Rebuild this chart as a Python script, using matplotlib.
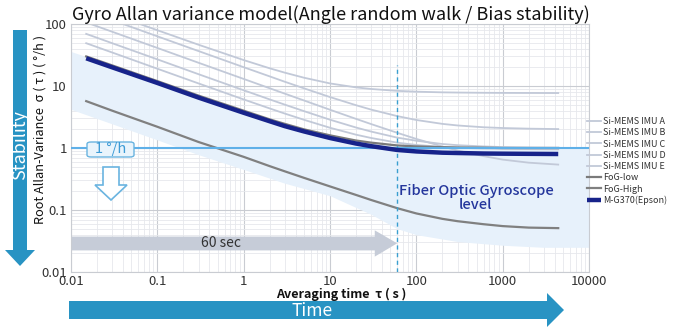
import numpy as np
import matplotlib
matplotlib.use('Agg')
import matplotlib.pyplot as plt
from matplotlib.patches import Polygon, FancyBboxPatch
from matplotlib.ticker import FixedLocator, LogLocator, NullFormatter

plt.rcParams['font.family'] = ['Noto Sans CJK JP', 'DejaVu Sans']

W, H = 686, 336

# averaging time (s) where the curves were read
tau = [0.015, 0.03, 0.1, 0.3, 1, 2, 3, 5, 10, 20, 30, 60, 100, 200, 300,
       600, 1000, 2000, 4400]

mems_a = [204, 144.5, 79.4, 46.3, 26.2, 19.3, 16.4, 13.6, 11.0, 9.5, 8.95,
          8.35, 8.1, 7.9, 7.84, 7.77, 7.74, 7.72, 7.7]
mems_b = [163, 115.5, 63.3, 36.6, 20.1, 14.3, 11.7, 9.17, 6.63, 4.9, 4.16,
          3.27, 2.83, 2.45, 2.31, 2.16, 2.1, 2.05, 2.02]
mems_c = [69.3, 49, 26.9, 15.5, 8.54, 6.08, 5.0, 3.93, 2.86, 2.14, 1.84,
          1.47, 1.31, 1.16, 1.11, 1.06, 1.035, 1.02, 1.01]
mems_d = [106, 75, 41.1, 23.7, 13.0, 9.2, 7.52, 5.84, 4.14, 2.95, 2.43,
          1.76, 1.4, 1.06, 0.91, 0.74, 0.65, 0.58, 0.54]
mems_e = [49, 34.7, 19, 11, 6.07, 4.35, 3.59, 2.85, 2.12, 1.64, 1.45,
          1.22, 1.12, 1.04, 1.01, 0.98, 0.97, 0.96, 0.95]
fog_low = [30, 21.5, 12, 7.0, 4.0, 2.9, 2.45, 2.0, 1.6, 1.32, 1.22, 1.1,
           1.06, 1.03, 1.02, 1.01, 1.0, 1.0, 1.0]
fog_high = [5.7, 4.0, 2.2, 1.25, 0.72, 0.51, 0.42, 0.33, 0.24, 0.175, 0.145,
            0.107, 0.088, 0.072, 0.066, 0.059, 0.055, 0.052, 0.051]
epson = [28, 20, 11.2, 6.5, 3.7, 2.7, 2.25, 1.85, 1.45, 1.18, 1.07, 0.93,
         0.88, 0.84, 0.83, 0.815, 0.81, 0.805, 0.8]

# FOG level band
band_tau = [0.01, 0.03, 0.1, 0.3, 1, 3, 10, 30, 60, 100, 300, 1000, 3000, 10000]
band_top = [36, 21.5, 12.5, 7.3, 4.1, 2.5, 1.6, 1.2, 1.08, 1.03, 1.0, 1.0, 1.0, 1.0]
band_bot = [4.2, 2.45, 1.35, 0.78, 0.45, 0.27, 0.17, 0.085, 0.05, 0.04, 0.031,
            0.027, 0.025, 0.025]

labels = ['Si-MEMS IMU A', 'Si-MEMS IMU B', 'Si-MEMS IMU C', 'Si-MEMS IMU D',
          'Si-MEMS IMU E', 'FoG-low', 'FoG-High', 'M-G370(Epson)']
xticks = [0.01, 0.1, 1, 10, 100, 1000, 10000]
xticklabels = ['0.01', '0.1', '1', '10', '100', '1000', '10000']
yticks = [0.01, 0.1, 1, 10, 100]
yticklabels = ['0.01', '0.1', '1', '10', '100']


def px(x, y):
    # figure pixel -> figure fraction
    return (x / W, 1 - y / H)


fig = plt.figure(figsize=(6.86, 3.36), dpi=100)
ax = fig.add_axes([71 / W, 1 - 272 / H, 518 / W, 248 / H])
ax.set_xscale('log')
ax.set_yscale('log')
ax.set_xlim(0.01, 10000)
ax.set_ylim(0.01, 100)

ax.fill_between(band_tau, band_bot, band_top, color='#e7f1fb', lw=0, zorder=1)

ax.grid(True, which='major', color='#c9ccd2', lw=0.8, zorder=0)
ax.grid(True, which='minor', color='#e6e8ec', lw=0.6, zorder=0)
ax.set_axisbelow(True)
for s in ax.spines.values():
    s.set_color('#c9ccd2')

mems_color = '#c2c9d8'
lines = []
for vals in [mems_a, mems_b, mems_c, mems_d, mems_e]:
    lines += ax.plot(tau, vals, color=mems_color, lw=1.3, zorder=2)
lines += ax.plot(tau, fog_low, color='#7a7a7a', lw=1.6, zorder=3)
lines += ax.plot(tau, fog_high, color='#808080', lw=1.6, zorder=3)
lines += ax.plot(tau, epson, color='#17238a', lw=3.2, zorder=4,
                 solid_capstyle='butt')

# 1 deg/h line
ax.axhline(1, color='#5fb0e8', lw=1.5, zorder=3)
ax.vlines(60, 0.01, 22, color='#3a9fd0', lw=1, linestyles=(0, (3, 2.5)), zorder=3)

# 60 sec arrow
arrow_pts = [(0.01, 0.0223), (33, 0.0223), (33, 0.0177), (60, 0.029),
             (33, 0.047), (33, 0.0373), (0.01, 0.0373)]
ax.add_patch(Polygon(arrow_pts, closed=True, fc='#c6ccd8', ec='none', zorder=2))
ax.text(0.55, 0.029, '60 sec', ha='center', va='center', fontsize=10,
        color='#333333', zorder=5)

ax.text(490, 0.155, 'Fiber Optic Gyroscope\nlevel', ha='center', va='center',
        fontsize=10.5, fontweight='medium', color='#24369c', linespacing=1.05,
        zorder=5)

ax.xaxis.set_major_locator(FixedLocator(xticks))
ax.set_xticklabels(xticklabels)
ax.yaxis.set_major_locator(FixedLocator(yticks))
ax.set_yticklabels(yticklabels)
ax.xaxis.set_minor_locator(LogLocator(base=10, subs=np.arange(2, 10), numticks=20))
ax.yaxis.set_minor_locator(LogLocator(base=10, subs=np.arange(2, 10), numticks=20))
ax.xaxis.set_minor_formatter(NullFormatter())
ax.yaxis.set_minor_formatter(NullFormatter())
ax.tick_params(which='both', length=0, labelsize=9.5, colors='#333333')
ax.tick_params(axis='x', pad=2)
ax.tick_params(axis='y', pad=3)

fig.text(331 / W, 1 - 15 / H,
         'Gyro Allan variance model(Angle random walk / Bias stability)',
         ha='center', va='center', fontsize=13, color='#111111')
fig.text(341 / W, 1 - 294 / H, 'Averaging time  τ ( s )', ha='center',
         va='center', fontsize=9, fontweight='bold', color='#111111')
fig.text(40 / W, 1 - 130 / H, 'Root Allan-Variance  σ ( τ ) ( °/h )',
         rotation=90, ha='center', va='center', fontsize=9.2, color='#111111')

# 1 deg/h label box
box = FancyBboxPatch(px(87, 157), 47 / W, 15 / H,
                     boxstyle='round,pad=0,rounding_size=0.006',
                     transform=fig.transFigure, fc='#e9f4fc', ec='#6ab4e0',
                     lw=1, zorder=6)
fig.patches.append(box)
fig.text(111 / W, 1 - 149.5 / H, '1 °/h', ha='center', va='center',
         fontsize=10.5, color='#3d9bd6', zorder=7)

# hollow down arrow
down = [px(103, 167), px(119, 167), px(119, 185), px(127, 185), px(111, 200),
        px(95, 185), px(103, 185)]
fig.patches.append(Polygon(down, closed=True, transform=fig.transFigure,
                           fc='white', ec='#6ab4e0', lw=1.2))

# Stability arrow
blue = '#2893c3'
stab = [px(13, 30), px(27, 30), px(27, 250), px(35, 250), px(20, 266),
        px(5, 250), px(13, 250)]
fig.patches.append(Polygon(stab, closed=True, transform=fig.transFigure,
                           fc=blue, ec='none'))
fig.text(20 / W, 1 - 145 / H, 'Stability', rotation=90, ha='center',
         va='center', fontsize=13, color='white')

# Time arrow
tarr = [px(69, 301), px(547, 301), px(547, 293), px(564, 310), px(547, 327),
        px(547, 319), px(69, 319)]
fig.patches.append(Polygon(tarr, closed=True, transform=fig.transFigure,
                           fc=blue, ec='none'))
fig.text(312 / W, 1 - 311 / H, 'Time', ha='center', va='center',
         fontsize=12.5, color='white')

fig.legend(lines, labels, loc='upper left', bbox_to_anchor=px(587, 117),
           frameon=False, fontsize=6.5, handlelength=1.5, handletextpad=0.3,
           labelspacing=0.25, borderaxespad=0, borderpad=0,
           labelcolor='#333333')

fig.savefig('out.png', dpi=100)
